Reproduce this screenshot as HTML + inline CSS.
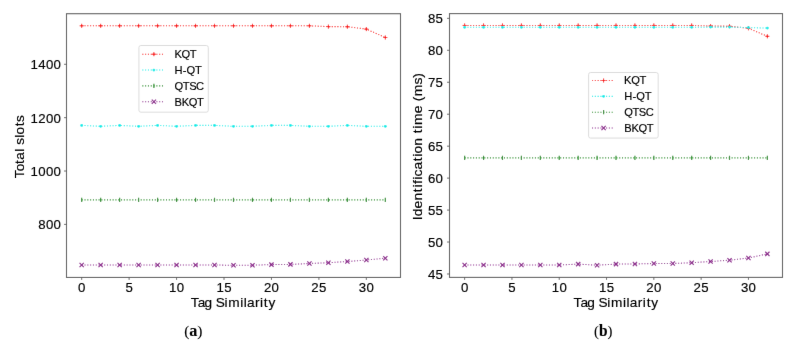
<!DOCTYPE html>
<html><head><meta charset="utf-8"><style>
html,body{margin:0;padding:0;background:#fff;overflow:hidden;}
svg{display:block;font-family:"Liberation Sans",sans-serif;}
</style></head><body>
<svg width="791" height="348" viewBox="0 0 791 348">
<defs><filter id="soft" x="0" y="0" width="791" height="348" filterUnits="userSpaceOnUse"><feConvolveMatrix order="3" kernelMatrix="0.0036 0.0528 0.0036 0.0528 0.7744 0.0528 0.0036 0.0528 0.0036" edgeMode="duplicate"/></filter><filter id="txt" x="0" y="0" width="791" height="348" filterUnits="userSpaceOnUse"><feConvolveMatrix order="3" kernelMatrix="0.0025 0.0450 0.0025 0.0450 0.8100 0.0450 0.0025 0.0450 0.0025" edgeMode="duplicate"/></filter></defs>
<g filter="url(#soft)">
<rect width="791" height="348" fill="#fff"/>
<polyline points="81.68,25.80 100.66,25.80 119.64,25.80 138.61,25.80 157.59,25.80 176.57,25.80 195.55,25.80 214.52,25.80 233.50,25.80 252.48,25.80 271.45,25.80 290.43,25.80 309.41,25.80 328.39,26.60 347.36,26.70 366.34,29.10 385.32,37.50" fill="none" stroke="#f80808" stroke-width="1.06" stroke-dasharray="1.06 1.75"/><path d="M79.68,25.80H83.68M81.68,23.80V27.80" stroke="#f80808" stroke-width="1.0"/><path d="M98.66,25.80H102.66M100.66,23.80V27.80" stroke="#f80808" stroke-width="1.0"/><path d="M117.64,25.80H121.64M119.64,23.80V27.80" stroke="#f80808" stroke-width="1.0"/><path d="M136.61,25.80H140.61M138.61,23.80V27.80" stroke="#f80808" stroke-width="1.0"/><path d="M155.59,25.80H159.59M157.59,23.80V27.80" stroke="#f80808" stroke-width="1.0"/><path d="M174.57,25.80H178.57M176.57,23.80V27.80" stroke="#f80808" stroke-width="1.0"/><path d="M193.55,25.80H197.55M195.55,23.80V27.80" stroke="#f80808" stroke-width="1.0"/><path d="M212.52,25.80H216.52M214.52,23.80V27.80" stroke="#f80808" stroke-width="1.0"/><path d="M231.50,25.80H235.50M233.50,23.80V27.80" stroke="#f80808" stroke-width="1.0"/><path d="M250.48,25.80H254.48M252.48,23.80V27.80" stroke="#f80808" stroke-width="1.0"/><path d="M269.45,25.80H273.45M271.45,23.80V27.80" stroke="#f80808" stroke-width="1.0"/><path d="M288.43,25.80H292.43M290.43,23.80V27.80" stroke="#f80808" stroke-width="1.0"/><path d="M307.41,25.80H311.41M309.41,23.80V27.80" stroke="#f80808" stroke-width="1.0"/><path d="M326.39,26.60H330.39M328.39,24.60V28.60" stroke="#f80808" stroke-width="1.0"/><path d="M345.36,26.70H349.36M347.36,24.70V28.70" stroke="#f80808" stroke-width="1.0"/><path d="M364.34,29.10H368.34M366.34,27.10V31.10" stroke="#f80808" stroke-width="1.0"/><path d="M383.32,37.50H387.32M385.32,35.50V39.50" stroke="#f80808" stroke-width="1.0"/>
<polyline points="81.68,125.40 100.66,126.30 119.64,125.40 138.61,126.30 157.59,125.40 176.57,126.30 195.55,125.40 214.52,125.40 233.50,126.30 252.48,126.30 271.45,125.40 290.43,125.40 309.41,126.30 328.39,126.30 347.36,125.40 366.34,126.30 385.32,126.30" fill="none" stroke="#00ece8" stroke-width="1.06" stroke-dasharray="1.06 1.75"/><circle cx="81.68" cy="125.40" r="1.4" fill="#00ece8"/><circle cx="100.66" cy="126.30" r="1.4" fill="#00ece8"/><circle cx="119.64" cy="125.40" r="1.4" fill="#00ece8"/><circle cx="138.61" cy="126.30" r="1.4" fill="#00ece8"/><circle cx="157.59" cy="125.40" r="1.4" fill="#00ece8"/><circle cx="176.57" cy="126.30" r="1.4" fill="#00ece8"/><circle cx="195.55" cy="125.40" r="1.4" fill="#00ece8"/><circle cx="214.52" cy="125.40" r="1.4" fill="#00ece8"/><circle cx="233.50" cy="126.30" r="1.4" fill="#00ece8"/><circle cx="252.48" cy="126.30" r="1.4" fill="#00ece8"/><circle cx="271.45" cy="125.40" r="1.4" fill="#00ece8"/><circle cx="290.43" cy="125.40" r="1.4" fill="#00ece8"/><circle cx="309.41" cy="126.30" r="1.4" fill="#00ece8"/><circle cx="328.39" cy="126.30" r="1.4" fill="#00ece8"/><circle cx="347.36" cy="125.40" r="1.4" fill="#00ece8"/><circle cx="366.34" cy="126.30" r="1.4" fill="#00ece8"/><circle cx="385.32" cy="126.30" r="1.4" fill="#00ece8"/>
<polyline points="81.68,199.90 100.66,199.90 119.64,199.90 138.61,199.90 157.59,199.90 176.57,199.90 195.55,199.90 214.52,199.90 233.50,199.90 252.48,199.90 271.45,199.90 290.43,199.90 309.41,199.90 328.39,199.90 347.36,199.90 366.34,199.90 385.32,199.90" fill="none" stroke="#1e8a1e" stroke-width="1.06" stroke-dasharray="1.06 1.75"/><path d="M81.68,197.78V202.02" stroke="#1e8a1e" stroke-width="1.15"/><path d="M100.66,197.78V202.02" stroke="#1e8a1e" stroke-width="1.15"/><path d="M119.64,197.78V202.02" stroke="#1e8a1e" stroke-width="1.15"/><path d="M138.61,197.78V202.02" stroke="#1e8a1e" stroke-width="1.15"/><path d="M157.59,197.78V202.02" stroke="#1e8a1e" stroke-width="1.15"/><path d="M176.57,197.78V202.02" stroke="#1e8a1e" stroke-width="1.15"/><path d="M195.55,197.78V202.02" stroke="#1e8a1e" stroke-width="1.15"/><path d="M214.52,197.78V202.02" stroke="#1e8a1e" stroke-width="1.15"/><path d="M233.50,197.78V202.02" stroke="#1e8a1e" stroke-width="1.15"/><path d="M252.48,197.78V202.02" stroke="#1e8a1e" stroke-width="1.15"/><path d="M271.45,197.78V202.02" stroke="#1e8a1e" stroke-width="1.15"/><path d="M290.43,197.78V202.02" stroke="#1e8a1e" stroke-width="1.15"/><path d="M309.41,197.78V202.02" stroke="#1e8a1e" stroke-width="1.15"/><path d="M328.39,197.78V202.02" stroke="#1e8a1e" stroke-width="1.15"/><path d="M347.36,197.78V202.02" stroke="#1e8a1e" stroke-width="1.15"/><path d="M366.34,197.78V202.02" stroke="#1e8a1e" stroke-width="1.15"/><path d="M385.32,197.78V202.02" stroke="#1e8a1e" stroke-width="1.15"/>
<polyline points="81.68,265.00 100.66,265.00 119.64,265.00 138.61,265.00 157.59,265.00 176.57,265.00 195.55,265.00 214.52,265.00 233.50,265.30 252.48,265.20 271.45,264.60 290.43,264.40 309.41,263.50 328.39,262.70 347.36,261.50 366.34,260.00 385.32,258.20" fill="none" stroke="#881a88" stroke-width="1.06" stroke-dasharray="1.06 1.75"/><path d="M79.56,262.88L83.80,267.12M79.56,267.12L83.80,262.88" stroke="#881a88" stroke-width="1.15"/><path d="M98.54,262.88L102.78,267.12M98.54,267.12L102.78,262.88" stroke="#881a88" stroke-width="1.15"/><path d="M117.52,262.88L121.76,267.12M117.52,267.12L121.76,262.88" stroke="#881a88" stroke-width="1.15"/><path d="M136.49,262.88L140.73,267.12M136.49,267.12L140.73,262.88" stroke="#881a88" stroke-width="1.15"/><path d="M155.47,262.88L159.71,267.12M155.47,267.12L159.71,262.88" stroke="#881a88" stroke-width="1.15"/><path d="M174.45,262.88L178.69,267.12M174.45,267.12L178.69,262.88" stroke="#881a88" stroke-width="1.15"/><path d="M193.43,262.88L197.67,267.12M193.43,267.12L197.67,262.88" stroke="#881a88" stroke-width="1.15"/><path d="M212.40,262.88L216.64,267.12M212.40,267.12L216.64,262.88" stroke="#881a88" stroke-width="1.15"/><path d="M231.38,263.18L235.62,267.42M231.38,267.42L235.62,263.18" stroke="#881a88" stroke-width="1.15"/><path d="M250.36,263.08L254.60,267.32M250.36,267.32L254.60,263.08" stroke="#881a88" stroke-width="1.15"/><path d="M269.33,262.48L273.57,266.72M269.33,266.72L273.57,262.48" stroke="#881a88" stroke-width="1.15"/><path d="M288.31,262.28L292.55,266.52M288.31,266.52L292.55,262.28" stroke="#881a88" stroke-width="1.15"/><path d="M307.29,261.38L311.53,265.62M307.29,265.62L311.53,261.38" stroke="#881a88" stroke-width="1.15"/><path d="M326.27,260.58L330.51,264.82M326.27,264.82L330.51,260.58" stroke="#881a88" stroke-width="1.15"/><path d="M345.24,259.38L349.48,263.62M345.24,263.62L349.48,259.38" stroke="#881a88" stroke-width="1.15"/><path d="M364.22,257.88L368.46,262.12M364.22,262.12L368.46,257.88" stroke="#881a88" stroke-width="1.15"/><path d="M383.20,256.08L387.44,260.32M383.20,260.32L387.44,256.08" stroke="#881a88" stroke-width="1.15"/>
<rect x="66.5" y="13.7" width="334.00" height="263.75" fill="none" stroke="#585858" stroke-width="1.1"/>
<path d="M81.68,277.45v2.5" stroke="#585858" stroke-width="0.9"/>

<path d="M129.12,277.45v2.5" stroke="#585858" stroke-width="0.9"/>

<path d="M176.57,277.45v2.5" stroke="#585858" stroke-width="0.9"/>

<path d="M224.01,277.45v2.5" stroke="#585858" stroke-width="0.9"/>

<path d="M271.45,277.45v2.5" stroke="#585858" stroke-width="0.9"/>

<path d="M318.90,277.45v2.5" stroke="#585858" stroke-width="0.9"/>

<path d="M366.34,277.45v2.5" stroke="#585858" stroke-width="0.9"/>

<path d="M66.5,224.40h-2.5" stroke="#585858" stroke-width="0.9"/>

<path d="M66.5,171.03h-2.5" stroke="#585858" stroke-width="0.9"/>

<path d="M66.5,117.67h-2.5" stroke="#585858" stroke-width="0.9"/>

<path d="M66.5,64.30h-2.5" stroke="#585858" stroke-width="0.9"/>



<polyline points="464.64,25.45 483.56,25.45 502.48,25.45 521.40,25.45 540.32,25.45 559.24,25.45 578.16,25.45 597.08,25.45 616.00,25.45 634.92,25.45 653.84,25.45 672.76,25.45 691.68,25.45 710.60,26.00 729.52,26.20 748.44,28.30 767.36,36.30" fill="none" stroke="#f80808" stroke-width="1.06" stroke-dasharray="1.06 1.75"/><path d="M462.64,25.45H466.64M464.64,23.45V27.45" stroke="#f80808" stroke-width="1.0"/><path d="M481.56,25.45H485.56M483.56,23.45V27.45" stroke="#f80808" stroke-width="1.0"/><path d="M500.48,25.45H504.48M502.48,23.45V27.45" stroke="#f80808" stroke-width="1.0"/><path d="M519.40,25.45H523.40M521.40,23.45V27.45" stroke="#f80808" stroke-width="1.0"/><path d="M538.32,25.45H542.32M540.32,23.45V27.45" stroke="#f80808" stroke-width="1.0"/><path d="M557.24,25.45H561.24M559.24,23.45V27.45" stroke="#f80808" stroke-width="1.0"/><path d="M576.16,25.45H580.16M578.16,23.45V27.45" stroke="#f80808" stroke-width="1.0"/><path d="M595.08,25.45H599.08M597.08,23.45V27.45" stroke="#f80808" stroke-width="1.0"/><path d="M614.00,25.45H618.00M616.00,23.45V27.45" stroke="#f80808" stroke-width="1.0"/><path d="M632.92,25.45H636.92M634.92,23.45V27.45" stroke="#f80808" stroke-width="1.0"/><path d="M651.84,25.45H655.84M653.84,23.45V27.45" stroke="#f80808" stroke-width="1.0"/><path d="M670.76,25.45H674.76M672.76,23.45V27.45" stroke="#f80808" stroke-width="1.0"/><path d="M689.68,25.45H693.68M691.68,23.45V27.45" stroke="#f80808" stroke-width="1.0"/><path d="M708.60,26.00H712.60M710.60,24.00V28.00" stroke="#f80808" stroke-width="1.0"/><path d="M727.52,26.20H731.52M729.52,24.20V28.20" stroke="#f80808" stroke-width="1.0"/><path d="M746.44,28.30H750.44M748.44,26.30V30.30" stroke="#f80808" stroke-width="1.0"/><path d="M765.36,36.30H769.36M767.36,34.30V38.30" stroke="#f80808" stroke-width="1.0"/>
<polyline points="464.64,27.30 483.56,27.30 502.48,27.30 521.40,27.30 540.32,27.30 559.24,27.30 578.16,27.30 597.08,27.30 616.00,27.30 634.92,27.30 653.84,27.30 672.76,27.30 691.68,27.30 710.60,27.10 729.52,27.10 748.44,27.60 767.36,28.10" fill="none" stroke="#00ece8" stroke-width="1.06" stroke-dasharray="1.06 1.75"/><circle cx="464.64" cy="27.30" r="1.4" fill="#00ece8"/><circle cx="483.56" cy="27.30" r="1.4" fill="#00ece8"/><circle cx="502.48" cy="27.30" r="1.4" fill="#00ece8"/><circle cx="521.40" cy="27.30" r="1.4" fill="#00ece8"/><circle cx="540.32" cy="27.30" r="1.4" fill="#00ece8"/><circle cx="559.24" cy="27.30" r="1.4" fill="#00ece8"/><circle cx="578.16" cy="27.30" r="1.4" fill="#00ece8"/><circle cx="597.08" cy="27.30" r="1.4" fill="#00ece8"/><circle cx="616.00" cy="27.30" r="1.4" fill="#00ece8"/><circle cx="634.92" cy="27.30" r="1.4" fill="#00ece8"/><circle cx="653.84" cy="27.30" r="1.4" fill="#00ece8"/><circle cx="672.76" cy="27.30" r="1.4" fill="#00ece8"/><circle cx="691.68" cy="27.30" r="1.4" fill="#00ece8"/><circle cx="710.60" cy="27.10" r="1.4" fill="#00ece8"/><circle cx="729.52" cy="27.10" r="1.4" fill="#00ece8"/><circle cx="748.44" cy="27.60" r="1.4" fill="#00ece8"/><circle cx="767.36" cy="28.10" r="1.4" fill="#00ece8"/>
<polyline points="464.64,157.90 483.56,157.90 502.48,157.90 521.40,157.90 540.32,157.90 559.24,157.90 578.16,157.90 597.08,157.90 616.00,157.90 634.92,157.90 653.84,157.90 672.76,157.90 691.68,157.90 710.60,157.90 729.52,157.90 748.44,157.90 767.36,157.90" fill="none" stroke="#1e8a1e" stroke-width="1.06" stroke-dasharray="1.06 1.75"/><path d="M464.64,155.78V160.02" stroke="#1e8a1e" stroke-width="1.15"/><path d="M483.56,155.78V160.02" stroke="#1e8a1e" stroke-width="1.15"/><path d="M502.48,155.78V160.02" stroke="#1e8a1e" stroke-width="1.15"/><path d="M521.40,155.78V160.02" stroke="#1e8a1e" stroke-width="1.15"/><path d="M540.32,155.78V160.02" stroke="#1e8a1e" stroke-width="1.15"/><path d="M559.24,155.78V160.02" stroke="#1e8a1e" stroke-width="1.15"/><path d="M578.16,155.78V160.02" stroke="#1e8a1e" stroke-width="1.15"/><path d="M597.08,155.78V160.02" stroke="#1e8a1e" stroke-width="1.15"/><path d="M616.00,155.78V160.02" stroke="#1e8a1e" stroke-width="1.15"/><path d="M634.92,155.78V160.02" stroke="#1e8a1e" stroke-width="1.15"/><path d="M653.84,155.78V160.02" stroke="#1e8a1e" stroke-width="1.15"/><path d="M672.76,155.78V160.02" stroke="#1e8a1e" stroke-width="1.15"/><path d="M691.68,155.78V160.02" stroke="#1e8a1e" stroke-width="1.15"/><path d="M710.60,155.78V160.02" stroke="#1e8a1e" stroke-width="1.15"/><path d="M729.52,155.78V160.02" stroke="#1e8a1e" stroke-width="1.15"/><path d="M748.44,155.78V160.02" stroke="#1e8a1e" stroke-width="1.15"/><path d="M767.36,155.78V160.02" stroke="#1e8a1e" stroke-width="1.15"/>
<polyline points="464.64,265.00 483.56,265.00 502.48,265.00 521.40,265.00 540.32,265.00 559.24,265.00 578.16,264.10 597.08,265.20 616.00,264.10 634.92,264.00 653.84,263.50 672.76,263.50 691.68,262.70 710.60,261.50 729.52,260.20 748.44,258.00 767.36,253.90" fill="none" stroke="#881a88" stroke-width="1.06" stroke-dasharray="1.06 1.75"/><path d="M462.52,262.88L466.76,267.12M462.52,267.12L466.76,262.88" stroke="#881a88" stroke-width="1.15"/><path d="M481.44,262.88L485.68,267.12M481.44,267.12L485.68,262.88" stroke="#881a88" stroke-width="1.15"/><path d="M500.36,262.88L504.60,267.12M500.36,267.12L504.60,262.88" stroke="#881a88" stroke-width="1.15"/><path d="M519.28,262.88L523.52,267.12M519.28,267.12L523.52,262.88" stroke="#881a88" stroke-width="1.15"/><path d="M538.20,262.88L542.44,267.12M538.20,267.12L542.44,262.88" stroke="#881a88" stroke-width="1.15"/><path d="M557.12,262.88L561.36,267.12M557.12,267.12L561.36,262.88" stroke="#881a88" stroke-width="1.15"/><path d="M576.04,261.98L580.28,266.22M576.04,266.22L580.28,261.98" stroke="#881a88" stroke-width="1.15"/><path d="M594.96,263.08L599.20,267.32M594.96,267.32L599.20,263.08" stroke="#881a88" stroke-width="1.15"/><path d="M613.88,261.98L618.12,266.22M613.88,266.22L618.12,261.98" stroke="#881a88" stroke-width="1.15"/><path d="M632.80,261.88L637.04,266.12M632.80,266.12L637.04,261.88" stroke="#881a88" stroke-width="1.15"/><path d="M651.72,261.38L655.96,265.62M651.72,265.62L655.96,261.38" stroke="#881a88" stroke-width="1.15"/><path d="M670.64,261.38L674.88,265.62M670.64,265.62L674.88,261.38" stroke="#881a88" stroke-width="1.15"/><path d="M689.56,260.58L693.80,264.82M689.56,264.82L693.80,260.58" stroke="#881a88" stroke-width="1.15"/><path d="M708.48,259.38L712.72,263.62M708.48,263.62L712.72,259.38" stroke="#881a88" stroke-width="1.15"/><path d="M727.40,258.08L731.64,262.32M727.40,262.32L731.64,258.08" stroke="#881a88" stroke-width="1.15"/><path d="M746.32,255.88L750.56,260.12M746.32,260.12L750.56,255.88" stroke="#881a88" stroke-width="1.15"/><path d="M765.24,251.78L769.48,256.02M765.24,256.02L769.48,251.78" stroke="#881a88" stroke-width="1.15"/>
<rect x="449.5" y="13.6" width="333.00" height="263.80" fill="none" stroke="#585858" stroke-width="1.1"/>
<path d="M464.64,277.4v2.5" stroke="#585858" stroke-width="0.9"/>

<path d="M511.94,277.4v2.5" stroke="#585858" stroke-width="0.9"/>

<path d="M559.24,277.4v2.5" stroke="#585858" stroke-width="0.9"/>

<path d="M606.54,277.4v2.5" stroke="#585858" stroke-width="0.9"/>

<path d="M653.84,277.4v2.5" stroke="#585858" stroke-width="0.9"/>

<path d="M701.14,277.4v2.5" stroke="#585858" stroke-width="0.9"/>

<path d="M748.44,277.4v2.5" stroke="#585858" stroke-width="0.9"/>

<path d="M449.5,273.99h-2.5" stroke="#585858" stroke-width="0.9"/>

<path d="M449.5,242.03h-2.5" stroke="#585858" stroke-width="0.9"/>

<path d="M449.5,210.08h-2.5" stroke="#585858" stroke-width="0.9"/>

<path d="M449.5,178.12h-2.5" stroke="#585858" stroke-width="0.9"/>

<path d="M449.5,146.17h-2.5" stroke="#585858" stroke-width="0.9"/>

<path d="M449.5,114.22h-2.5" stroke="#585858" stroke-width="0.9"/>

<path d="M449.5,82.26h-2.5" stroke="#585858" stroke-width="0.9"/>

<path d="M449.5,50.30h-2.5" stroke="#585858" stroke-width="0.9"/>

<path d="M449.5,18.35h-2.5" stroke="#585858" stroke-width="0.9"/>



<rect x="138.9" y="45.5" width="69.4" height="66.7" rx="2" fill="#fff" fill-opacity="0.8" stroke="#d8d8d8" stroke-width="0.9"/><polyline points="142.30,54.20 163.90,54.20" fill="none" stroke="#f80808" stroke-width="1.06" stroke-dasharray="1.06 1.75"/><path d="M151.90,54.20H155.90M153.90,52.20V56.20" stroke="#f80808" stroke-width="1.0"/><polyline points="142.30,70.05 163.90,70.05" fill="none" stroke="#00ece8" stroke-width="1.06" stroke-dasharray="1.06 1.75"/><circle cx="153.90" cy="70.05" r="1.4" fill="#00ece8"/><polyline points="142.30,85.90 163.90,85.90" fill="none" stroke="#1e8a1e" stroke-width="1.06" stroke-dasharray="1.06 1.75"/><path d="M153.90,83.78V88.02" stroke="#1e8a1e" stroke-width="1.15"/><polyline points="142.30,101.75 163.90,101.75" fill="none" stroke="#881a88" stroke-width="1.06" stroke-dasharray="1.06 1.75"/><path d="M151.78,99.63L156.02,103.87M151.78,103.87L156.02,99.63" stroke="#881a88" stroke-width="1.15"/>
<rect x="588.6" y="72.5" width="69.6" height="65.6" rx="2" fill="#fff" fill-opacity="0.8" stroke="#d8d8d8" stroke-width="0.9"/><polyline points="592.00,80.50 613.60,80.50" fill="none" stroke="#f80808" stroke-width="1.06" stroke-dasharray="1.06 1.75"/><path d="M601.60,80.50H605.60M603.60,78.50V82.50" stroke="#f80808" stroke-width="1.0"/><polyline points="592.00,96.35 613.60,96.35" fill="none" stroke="#00ece8" stroke-width="1.06" stroke-dasharray="1.06 1.75"/><circle cx="603.60" cy="96.35" r="1.4" fill="#00ece8"/><polyline points="592.00,112.20 613.60,112.20" fill="none" stroke="#1e8a1e" stroke-width="1.06" stroke-dasharray="1.06 1.75"/><path d="M603.60,110.08V114.32" stroke="#1e8a1e" stroke-width="1.15"/><polyline points="592.00,128.05 613.60,128.05" fill="none" stroke="#881a88" stroke-width="1.06" stroke-dasharray="1.06 1.75"/><path d="M601.48,125.93L605.72,130.17M601.48,130.17L605.72,125.93" stroke="#881a88" stroke-width="1.15"/>


</g>
<g filter="url(#txt)"><text transform="translate(81.68,291.70) scale(1.047361215924516,1)" x="-3.52" y="0" font-size="12.64" fill="#000" stroke="#000" stroke-width="0.16">0</text>
<text transform="translate(129.12,291.70) scale(1.047361215924516,1)" x="-3.52" y="0" font-size="12.64" fill="#000" stroke="#000" stroke-width="0.16">5</text>
<text transform="translate(176.57,291.70) scale(1.047361215924516,1)" x="-7.19 0.16" y="0" font-size="12.64" fill="#000" stroke="#000" stroke-width="0.16">10</text>
<text transform="translate(224.01,291.70) scale(1.047361215924516,1)" x="-7.19 0.16" y="0" font-size="12.64" fill="#000" stroke="#000" stroke-width="0.16">15</text>
<text transform="translate(271.45,291.70) scale(1.047361215924516,1)" x="-7.19 0.16" y="0" font-size="12.64" fill="#000" stroke="#000" stroke-width="0.16">20</text>
<text transform="translate(318.90,291.70) scale(1.047361215924516,1)" x="-7.19 0.16" y="0" font-size="12.64" fill="#000" stroke="#000" stroke-width="0.16">25</text>
<text transform="translate(366.34,291.70) scale(1.047361215924516,1)" x="-7.19 0.16" y="0" font-size="12.64" fill="#000" stroke="#000" stroke-width="0.16">30</text>
<text transform="translate(61.10,229.30) scale(1.047361215924516,1)" x="-21.89 -14.54 -7.19" y="0" font-size="12.64" fill="#000" stroke="#000" stroke-width="0.16">800</text>
<text transform="translate(61.10,175.93) scale(1.047361215924516,1)" x="-29.24 -21.89 -14.54 -7.19" y="0" font-size="12.64" fill="#000" stroke="#000" stroke-width="0.16">1000</text>
<text transform="translate(61.10,122.57) scale(1.047361215924516,1)" x="-29.24 -21.89 -14.54 -7.19" y="0" font-size="12.64" fill="#000" stroke="#000" stroke-width="0.16">1200</text>
<text transform="translate(61.10,69.20) scale(1.047361215924516,1)" x="-29.24 -21.89 -14.54 -7.19" y="0" font-size="12.64" fill="#000" stroke="#000" stroke-width="0.16">1400</text>
<text transform="translate(233.30,307.00) scale(1.0422774940568913,1)" x="-40.90 -34.17 -27.66 -20.09 -16.91 -8.50 -4.97 6.57 9.92 13.09 20.72 25.59 29.26 33.73" y="0" font-size="13.11" fill="#000" stroke="#000" stroke-width="0.16">Tag Similarity</text>
<text transform="translate(24.20,146.65) rotate(-90) scale(1.0355849337489145,1)" x="-30.46 -23.72 -16.85 -12.58 -5.00 -1.75 1.88 8.54 11.74 19.65 23.72" y="0" font-size="13.11" fill="#000" stroke="#000" stroke-width="0.16">Total slots</text>
<text transform="translate(464.64,291.70) scale(1.047361215924516,1)" x="-3.52" y="0" font-size="12.64" fill="#000" stroke="#000" stroke-width="0.16">0</text>
<text transform="translate(511.94,291.70) scale(1.047361215924516,1)" x="-3.52" y="0" font-size="12.64" fill="#000" stroke="#000" stroke-width="0.16">5</text>
<text transform="translate(559.24,291.70) scale(1.047361215924516,1)" x="-7.19 0.16" y="0" font-size="12.64" fill="#000" stroke="#000" stroke-width="0.16">10</text>
<text transform="translate(606.54,291.70) scale(1.047361215924516,1)" x="-7.19 0.16" y="0" font-size="12.64" fill="#000" stroke="#000" stroke-width="0.16">15</text>
<text transform="translate(653.84,291.70) scale(1.047361215924516,1)" x="-7.19 0.16" y="0" font-size="12.64" fill="#000" stroke="#000" stroke-width="0.16">20</text>
<text transform="translate(701.14,291.70) scale(1.047361215924516,1)" x="-7.19 0.16" y="0" font-size="12.64" fill="#000" stroke="#000" stroke-width="0.16">25</text>
<text transform="translate(748.44,291.70) scale(1.047361215924516,1)" x="-7.19 0.16" y="0" font-size="12.64" fill="#000" stroke="#000" stroke-width="0.16">30</text>
<text transform="translate(443.10,278.89) scale(1.047361215924516,1)" x="-14.54 -7.19" y="0" font-size="12.64" fill="#000" stroke="#000" stroke-width="0.16">45</text>
<text transform="translate(443.10,246.94) scale(1.047361215924516,1)" x="-14.54 -7.19" y="0" font-size="12.64" fill="#000" stroke="#000" stroke-width="0.16">50</text>
<text transform="translate(443.10,214.98) scale(1.047361215924516,1)" x="-14.54 -7.19" y="0" font-size="12.64" fill="#000" stroke="#000" stroke-width="0.16">55</text>
<text transform="translate(443.10,183.03) scale(1.047361215924516,1)" x="-14.54 -7.19" y="0" font-size="12.64" fill="#000" stroke="#000" stroke-width="0.16">60</text>
<text transform="translate(443.10,151.07) scale(1.047361215924516,1)" x="-14.54 -7.19" y="0" font-size="12.64" fill="#000" stroke="#000" stroke-width="0.16">65</text>
<text transform="translate(443.10,119.12) scale(1.047361215924516,1)" x="-14.54 -7.19" y="0" font-size="12.64" fill="#000" stroke="#000" stroke-width="0.16">70</text>
<text transform="translate(443.10,87.16) scale(1.047361215924516,1)" x="-14.54 -7.19" y="0" font-size="12.64" fill="#000" stroke="#000" stroke-width="0.16">75</text>
<text transform="translate(443.10,55.20) scale(1.047361215924516,1)" x="-14.54 -7.19" y="0" font-size="12.64" fill="#000" stroke="#000" stroke-width="0.16">80</text>
<text transform="translate(443.10,23.25) scale(1.047361215924516,1)" x="-14.54 -7.19" y="0" font-size="12.64" fill="#000" stroke="#000" stroke-width="0.16">85</text>
<text transform="translate(616.20,307.00) scale(1.0422774940568913,1)" x="-40.90 -34.17 -27.66 -20.09 -16.91 -8.50 -4.97 6.57 9.92 13.09 20.72 25.59 29.26 33.73" y="0" font-size="13.11" fill="#000" stroke="#000" stroke-width="0.16">Tag Similarity</text>
<text transform="translate(422.20,146.50) rotate(-90) scale(1.0578345351437468,1)" x="-69.64 -65.95 -58.53 -51.12 -43.21 -38.87 -35.50 -31.40 -28.31 -21.78 -14.00 -9.66 -6.57 0.82 8.29 12.50 16.84 20.26 31.50 38.86 42.70 47.51 58.57 65.07" y="0" font-size="13.11" fill="#000" stroke="#000" stroke-width="0.16">Identification time (ms)</text>
<text transform="translate(174.60,58.20)" x="-0.22 6.85 15.22" y="0" font-size="11.13" fill="#000" stroke="#000" stroke-width="0.16">KQT</text>
<text transform="translate(174.60,74.05)" x="-0.01 8.08 11.91 20.48" y="0" font-size="11.13" fill="#000" stroke="#000" stroke-width="0.16">H-QT</text>
<text transform="translate(174.60,89.90)" x="-0.14 8.24 14.56 21.35" y="0" font-size="11.13" fill="#000" stroke="#000" stroke-width="0.16">QTSC</text>
<text transform="translate(174.60,105.75)" x="-0.06 7.09 14.15 22.53" y="0" font-size="11.13" fill="#000" stroke="#000" stroke-width="0.16">BKQT</text>
<text transform="translate(624.30,84.30)" x="-0.22 6.85 15.22" y="0" font-size="11.13" fill="#000" stroke="#000" stroke-width="0.16">KQT</text>
<text transform="translate(624.30,100.15)" x="-0.01 8.08 11.91 20.48" y="0" font-size="11.13" fill="#000" stroke="#000" stroke-width="0.16">H-QT</text>
<text transform="translate(624.30,116.00)" x="-0.14 8.24 14.56 21.35" y="0" font-size="11.13" fill="#000" stroke="#000" stroke-width="0.16">QTSC</text>
<text transform="translate(624.30,131.85)" x="-0.06 7.09 14.15 22.53" y="0" font-size="11.13" fill="#000" stroke="#000" stroke-width="0.16">BKQT</text>
<text x="193.35" y="335.7" text-anchor="middle" font-family="Liberation Serif" font-size="15.3" fill="#000" stroke="#000" stroke-width="0.1" textLength="18.4" lengthAdjust="spacingAndGlyphs">(<tspan font-weight="bold" font-size="16.0">a</tspan>)</text>
<text x="603.3" y="335.7" text-anchor="middle" font-family="Liberation Serif" font-size="15.3" fill="#000" stroke="#000" stroke-width="0.1" textLength="18.4" lengthAdjust="spacingAndGlyphs">(<tspan font-weight="bold" font-size="16.0">b</tspan>)</text>
</g>
</svg>
</body></html>
